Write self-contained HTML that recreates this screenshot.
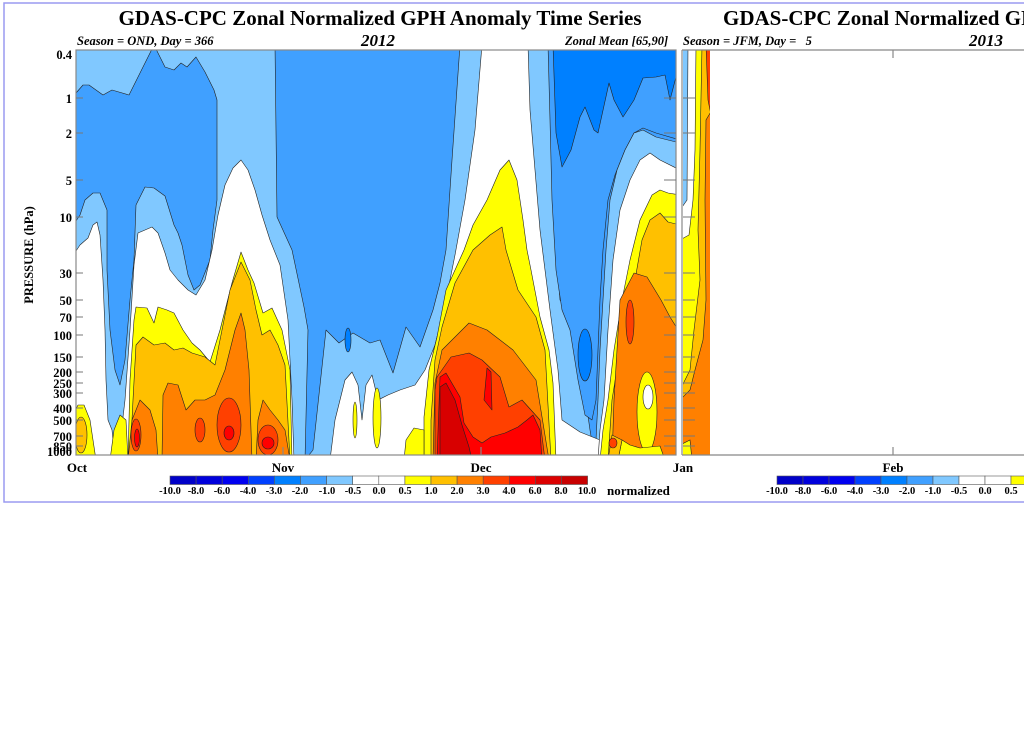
<!DOCTYPE html>
<html><head><meta charset="utf-8"><style>
html,body{margin:0;padding:0;background:#fff;width:1024px;height:730px;overflow:hidden}
svg{display:block}
text{font-family:"Liberation Serif",serif;font-weight:bold}
</style></head><body>
<svg width="1024" height="730" viewBox="0 0 1024 730" xmlns="http://www.w3.org/2000/svg">
<defs>
<clipPath id="c1"><rect x="76" y="50" width="600" height="405"/></clipPath>
<clipPath id="c2"><rect x="683" y="50" width="27" height="405"/></clipPath>
</defs>
<rect x="4" y="3" width="1030" height="499" fill="none" stroke="#9a9af0" stroke-width="1.5"/>
<text x="380" y="25" font-size="21" text-anchor="middle">GDAS-CPC Zonal Normalized GPH Anomaly Time Series</text>
<text x="77" y="45" font-size="12.5" font-style="italic">Season = OND, Day = 366</text>
<text x="378" y="46" font-size="17" font-style="italic" text-anchor="middle">2012</text>
<text x="565" y="45" font-size="12.5" font-style="italic">Zonal Mean [65,90]</text>
<text x="723" y="25" font-size="21">GDAS-CPC Zonal Normalized GPH Anomaly Time Series</text>
<rect x="680" y="30" width="400" height="20" fill="#fff"/>
<text x="683" y="45" font-size="12.5" font-style="italic" xml:space="preserve">Season = JFM, Day =   5</text>
<text x="986" y="46" font-size="17" font-style="italic" text-anchor="middle">2013</text>

<g clip-path="url(#c1)" stroke="#222" stroke-width="0.6" stroke-linejoin="round">
<rect x="76" y="50" width="600" height="405" fill="#40a0ff" stroke="none"/>
<!-- left light blue -->
<polygon fill="#80c8ff" points="70,45 275,45 277,217 292,250 304,307 308,330 305,460 70,460"/>
<!-- lake mid blue -->
<polygon fill="#40a0ff" points="70,93 76,93 83,85 89,85 103,95 112,90 129,95 143,67 154,45 165,67 174,70 181,63 187,67 196,57 205,72 214,90 217,100 217,200 213,230 210,260 200,285 194,290 188,275 182,245 178,233 174,225 165,196 154,188 145,187 136,205 134,260 130,300 125,360 120,385 115,370 110,330 107,270 107,210 100,193 93,193 85,200 80,215 70,230"/>
<!-- middle light blue -->
<polygon fill="#80c8ff" points="305,460 313,450 326,330 339,343 353,333 370,343 380,340 393,373 406,327 420,347 433,310 440,283 446,250 452,160 460,45 555,45 553,150 556,250 560,300 572,320 580,360 590,430 595,460"/>
<!-- right mid blue -->
<polygon fill="#40a0ff" points="548,45 680,45 680,140 656,133 643,128 634,133 625,150 615,175 608,200 603,250 600,300 598,350 596,400 592,420 585,415 578,380 570,330 562,310 556,270 552,200 550,120"/>
<polygon fill="#0080ff" points="553,45 680,45 680,77 676,77 670,100 665,75 656,77 643,78 634,100 623,117 614,100 609,83 598,133 594,130 585,107 580,117 571,150 562,167 556,133"/>
<ellipse cx="585" cy="355" rx="7" ry="26" fill="#0080ff"/>
<ellipse cx="348" cy="340" rx="3" ry="12" fill="#0080ff"/>
<polygon fill="#80c8ff" points="680,143 656,137 643,130 634,133 625,150 617,170 610,200 606,250 603,300 600,350 598,400 596,440 594,460 680,460"/>
<!-- whites -->
<polygon fill="#fff" points="70,460 70,260 80,245 88,238 93,225 97,222 100,235 103,280 105,330 106,380 108,420 112,430 115,460"/>
<polygon fill="#fff" points="118,460 125,400 130,330 134,265 138,233 152,227 158,233 165,253 170,270 178,280 188,290 196,295 205,280 212,250 218,215 225,185 233,168 241,160 248,170 255,190 262,215 270,240 280,265 288,320 292,400 294,460"/>
<polygon fill="#fff" points="330,460 335,420 340,400 345,380 352,372 358,385 362,420 366,385 372,375 378,400 388,395 400,390 415,385 425,370 435,345 445,305 455,255 465,200 475,130 482,45 528,45 530,110 535,170 540,230 545,270 550,310 558,370 562,420 580,432 600,440 605,460"/>
<polygon fill="#fff" points="680,170 660,160 650,153 640,160 630,180 620,210 613,260 608,330 604,400 600,430 598,460 680,460"/>
<!-- yellows -->
<polygon fill="#ffff00" points="128,460 130,380 134,320 136,307 147,308 154,323 158,307 167,310 174,313 183,330 192,343 200,350 210,362 220,330 232,283 241,252 248,270 254,283 263,313 272,308 282,330 290,370 292,460"/>
<polygon fill="#ffff00" points="70,460 70,420 78,405 84,405 90,420 93,440 96,460"/>
<polygon fill="#ffff00" points="110,460 114,430 120,415 126,420 128,460"/>
<polygon fill="#ffff00" points="424,460 424,417 429,370 437,337 446,290 464,250 473,225 487,200 500,170 509,160 517,180 523,220 527,250 531,270 540,317 549,350 553,383 556,460"/>
<ellipse cx="377" cy="418" rx="4" ry="30" fill="#ffff00"/>
<ellipse cx="355" cy="420" rx="2" ry="18" fill="#ffff00"/>
<polygon fill="#ffff00" points="404,460 406,440 414,428 424,430 424,460"/>
<polygon fill="#ffff00" points="680,195 668,193 660,190 652,195 640,220 630,260 622,300 614,350 608,400 603,430 600,460 680,460"/>
<!-- light orange -->
<polygon fill="#ffc000" points="130,460 133,400 136,345 143,337 154,345 165,343 174,350 183,348 192,353 205,357 215,365 222,330 230,290 241,262 250,280 256,310 262,335 270,330 278,345 285,365 290,460"/>
<ellipse cx="81" cy="435" rx="6" ry="18" fill="#ffc000"/>
<polygon fill="#ffc000" points="431,460 431,420 435,360 442,327 455,283 473,250 490,235 502,227 506,250 518,290 536,317 545,350 551,460"/>
<polygon fill="#ffc000" points="680,225 668,222 660,213 650,220 642,240 635,280 630,310 620,350 612,400 608,460 680,460"/>
<!-- orange -->
<polygon fill="#ff8000" points="128,460 132,420 140,400 150,410 156,430 158,460"/>
<polygon fill="#ff8000" points="162,460 163,395 168,383 178,385 186,410 195,400 205,400 215,395 225,370 235,330 241,313 245,330 249,370 252,460"/>
<polygon fill="#ff8000" points="256,460 258,420 263,400 270,410 278,420 285,430 290,460"/>
<polygon fill="#ff8000" points="433,460 435,383 442,350 469,323 487,330 513,350 536,380 549,460"/>
<polygon fill="#ff8000" points="612,460 614,400 617,350 620,300 634,273 647,277 661,300 670,317 680,333 680,460"/>
<!-- right yellow blob inside orange -->
<ellipse cx="647" cy="412" rx="10" ry="40" fill="#ffff00"/>
<ellipse cx="648" cy="397" rx="5" ry="12" fill="#fff"/>
<polygon fill="#ffff00" points="618,460 622,440 630,445 640,448 660,446 665,460"/>
<polygon fill="#ffc000" points="608,460 612,435 622,440 618,460"/>
<!-- red-orange -->
<ellipse cx="136" cy="435" rx="5" ry="16" fill="#ff4000"/>
<ellipse cx="200" cy="430" rx="5" ry="12" fill="#ff4000"/>
<ellipse cx="229" cy="425" rx="12" ry="27" fill="#ff4000"/>
<ellipse cx="268" cy="440" rx="10" ry="15" fill="#ff4000"/>
<ellipse cx="630" cy="322" rx="4" ry="22" fill="#ff4000"/>
<ellipse cx="613" cy="443" rx="4" ry="5" fill="#ff4000"/>
<polygon fill="#ff4000" points="435,460 435,390 437,377 451,357 469,353 482,360 500,377 509,407 522,400 540,420 545,460"/>
<!-- red -->
<ellipse cx="137" cy="438" rx="2.5" ry="9" fill="#ff0000"/>
<ellipse cx="229" cy="433" rx="5" ry="7" fill="#ff0000"/>
<ellipse cx="268" cy="443" rx="6" ry="6" fill="#ff0000"/>
<polygon fill="#ff0000" points="437,460 440,377 446,373 460,397 464,423 473,437 482,443 491,437 505,433 518,427 527,420 533,415 540,430 542,460"/>
<polygon fill="#ff0000" points="484,400 487,368 491,372 492,410"/>
<polygon fill="#d80000" points="440,460 440,387 446,383 455,400 462,425 469,447 472,460"/>
</g>
<!-- panel 2 data -->
<g clip-path="url(#c2)" stroke="#222" stroke-width="0.6">
<rect x="683" y="50" width="27" height="405" fill="#ffc000" stroke="none"/>
<polygon fill="#ffff00" points="680,45 702,45 700,150 698,230 700,280 694,330 690,370 680,390"/>
<polygon fill="#fff" points="680,45 696,45 695,150 693,200 689,235 680,240"/>
<polygon fill="#80c8ff" points="680,45 688,45 687,200 680,210"/>
<polygon fill="#ff8000" points="712,110 706,120 705,200 706,300 703,340 695,370 690,390 680,400 680,460 712,460"/>
<polygon fill="#ff4000" points="706,45 712,45 712,120 708,100"/>
<polygon fill="#ffff00" points="680,445 690,440 692,460 680,460"/>
</g>
<!-- axes -->
<g stroke="#888" stroke-width="1.2" fill="none">
<rect x="76" y="50" width="600" height="405"/>
<line x1="682" y1="50" x2="1030" y2="50"/>
<line x1="682" y1="455" x2="1030" y2="455"/>
<line x1="682" y1="50" x2="682" y2="455"/>
<line x1="893" y1="50" x2="893" y2="58"/>
<line x1="893" y1="447" x2="893" y2="455"/>
<line x1="283" y1="447" x2="283" y2="455"/>
<line x1="481" y1="447" x2="481" y2="455"/>
</g>
<g stroke="#777" stroke-width="1">
<path d="M76 98h7M76 133h7M76 180h7M76 217h7M76 273h7M76 300h7M76 317h7M76 335h7M76 357h7M76 372h7M76 383h7M76 393h7M76 408h7M76 420h7M76 436h7M76 446h7"/>
<path d="M664 98h12M664 133h12M664 180h12M664 217h12M664 273h12M664 300h12M664 317h12M664 335h12M664 357h12M664 372h12M664 383h12M664 393h12M664 408h12M664 420h12M664 436h12M664 446h12"/>
<path d="M683 98h12M683 133h12M683 180h12M683 217h12M683 273h12M683 300h12M683 317h12M683 335h12M683 357h12M683 372h12M683 383h12M683 393h12M683 408h12M683 420h12M683 436h12M683 446h12"/>
</g>
<g font-size="12.5" text-anchor="end">
<text x="72" y="59">0.4</text><text x="72" y="103">1</text><text x="72" y="138">2</text>
<text x="72" y="185">5</text><text x="72" y="222">10</text><text x="72" y="278">30</text>
<text x="72" y="305">50</text><text x="72" y="322">70</text><text x="72" y="340">100</text>
<text x="72" y="362">150</text><text x="72" y="377">200</text><text x="72" y="388">250</text>
<text x="72" y="398">300</text><text x="72" y="413">400</text><text x="72" y="425">500</text>
<text x="72" y="441">700</text><text x="72" y="451">850</text><text x="72" y="456">1000</text>
</g>
<text transform="translate(33,255) rotate(-90)" font-size="12.5" text-anchor="middle">PRESSURE (hPa)</text>
<g font-size="13" text-anchor="middle">
<text x="77" y="472">Oct</text><text x="283" y="472">Nov</text><text x="481" y="472">Dec</text>
<text x="683" y="472">Jan</text><text x="893" y="472">Feb</text>
</g>
<!-- colorbar 1 -->
<g stroke="#555" stroke-width="0.6">
<rect x="170" y="476" width="26.1" height="8.5" fill="#0000c8"/>
<rect x="196.1" y="476" width="26.1" height="8.5" fill="#0000dc"/>
<rect x="222.2" y="476" width="26.1" height="8.5" fill="#0000f0"/>
<rect x="248.3" y="476" width="26.1" height="8.5" fill="#0040ff"/>
<rect x="274.4" y="476" width="26.1" height="8.5" fill="#0080ff"/>
<rect x="300.5" y="476" width="26.1" height="8.5" fill="#40a0ff"/>
<rect x="326.6" y="476" width="26.1" height="8.5" fill="#80c8ff"/>
<rect x="352.7" y="476" width="26.1" height="8.5" fill="#fff"/>
<rect x="378.8" y="476" width="26.1" height="8.5" fill="#fff"/>
<rect x="404.9" y="476" width="26.1" height="8.5" fill="#ffff00"/>
<rect x="431" y="476" width="26.1" height="8.5" fill="#ffc000"/>
<rect x="457.1" y="476" width="26.1" height="8.5" fill="#ff8000"/>
<rect x="483.2" y="476" width="26.1" height="8.5" fill="#ff4000"/>
<rect x="509.3" y="476" width="26.1" height="8.5" fill="#ff0000"/>
<rect x="535.4" y="476" width="26.1" height="8.5" fill="#dc0000"/>
<rect x="561.5" y="476" width="26.1" height="8.5" fill="#c80000"/>
</g>
<g font-size="10.5" text-anchor="middle">
<text x="170" y="494">-10.0</text><text x="196" y="494">-8.0</text><text x="222" y="494">-6.0</text>
<text x="248" y="494">-4.0</text><text x="274" y="494">-3.0</text><text x="300" y="494">-2.0</text>
<text x="327" y="494">-1.0</text><text x="353" y="494">-0.5</text><text x="379" y="494">0.0</text>
<text x="405" y="494">0.5</text><text x="431" y="494">1.0</text><text x="457" y="494">2.0</text>
<text x="483" y="494">3.0</text><text x="509" y="494">4.0</text><text x="535" y="494">6.0</text>
<text x="561" y="494">8.0</text><text x="587" y="494">10.0</text>
</g>
<text x="607" y="495" font-size="13">normalized</text>
<!-- colorbar 2 -->
<g stroke="#555" stroke-width="0.6">
<rect x="777" y="476" width="26" height="8.5" fill="#0000c8"/>
<rect x="803" y="476" width="26" height="8.5" fill="#0000dc"/>
<rect x="829" y="476" width="26" height="8.5" fill="#0000f0"/>
<rect x="855" y="476" width="26" height="8.5" fill="#0040ff"/>
<rect x="881" y="476" width="26" height="8.5" fill="#0080ff"/>
<rect x="907" y="476" width="26" height="8.5" fill="#40a0ff"/>
<rect x="933" y="476" width="26" height="8.5" fill="#80c8ff"/>
<rect x="959" y="476" width="26" height="8.5" fill="#fff"/>
<rect x="985" y="476" width="26" height="8.5" fill="#fff"/>
<rect x="1011" y="476" width="26" height="8.5" fill="#ffff00"/>
</g>
<g font-size="10.5" text-anchor="middle">
<text x="777" y="494">-10.0</text><text x="803" y="494">-8.0</text><text x="829" y="494">-6.0</text>
<text x="855" y="494">-4.0</text><text x="881" y="494">-3.0</text><text x="907" y="494">-2.0</text>
<text x="933" y="494">-1.0</text><text x="959" y="494">-0.5</text><text x="985" y="494">0.0</text>
<text x="1011" y="494">0.5</text>
</g>
</svg>
</body></html>
